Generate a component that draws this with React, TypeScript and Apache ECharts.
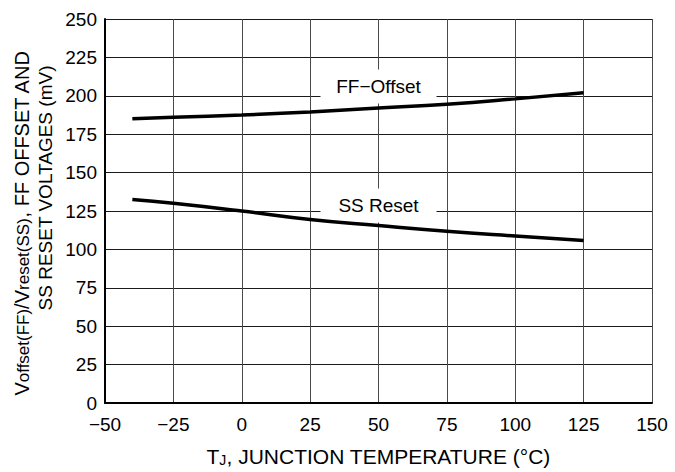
import React, { useEffect, useRef } from "react";
import * as echarts from "echarts";

const temperatures = [-40, -25, 0, 25, 50, 75, 100, 125];
const ffOffset = [185, 186, 187.5, 189.5, 192, 194.5, 198, 202];
const ssReset = [132.5, 130, 125, 119.5, 115.5, 111.8, 108.7, 105.8];

const xTicks = { min: -50, max: 150, interval: 25 };
const yTicks = { min: 0, max: 250, interval: 25 };

const ffLabel = { text: "FF\u2212Offset", x: 50, y: 206 };
const ssLabel = { text: "SS Reset", x: 50, y: 128.5 };

const FONT = "'Liberation Sans', Arial, Helvetica, sans-serif";

export default function App() {
  const ref = useRef<HTMLDivElement>(null);

  useEffect(() => {
    if (!ref.current) return;
    const chart = echarts.init(ref.current, null, { renderer: "svg" });

    const labelPoint = (l: { text: string; x: number; y: number }) => ({
      coord: [l.x, l.y],
      symbol: "rect",
      symbolSize: [116, 34],
      itemStyle: { color: "#ffffff" },
      label: {
        show: true,
        position: "inside",
        formatter: l.text,
        color: "#000",
        fontSize: 19,
        fontFamily: FONT,
      },
    });

    chart.setOption({
      animation: false,
      backgroundColor: "#ffffff",
      textStyle: { fontFamily: FONT },
      grid: { left: 105, right: 23, top: 19, bottom: 69, containLabel: false },
      xAxis: {
        type: "value",
        min: xTicks.min,
        max: xTicks.max,
        interval: xTicks.interval,
        axisLine: { show: true, onZero: false, lineStyle: { color: "#000", width: 2 } },
        axisTick: { show: false },
        axisLabel: {
          color: "#000",
          fontSize: 19,
          fontFamily: FONT,
          margin: 12,
          formatter: (v: number) => (v < 0 ? "\u2212" + Math.abs(v) : String(v)),
        },
        splitLine: { show: true, lineStyle: { color: "#4a4a4a", width: 1 } },
        name: "{m|T}{s|J}{m|, JUNCTION TEMPERATURE (\u00b0C)}",
        nameLocation: "middle",
        nameGap: 43,
        nameTextStyle: {
          rich: {
            m: { fontSize: 21, color: "#000", fontFamily: FONT },
            s: { fontSize: 14, color: "#000", fontFamily: FONT, verticalAlign: "bottom", lineHeight: 10 },
          },
        },
      },
      yAxis: {
        type: "value",
        min: yTicks.min,
        max: yTicks.max,
        interval: yTicks.interval,
        axisLine: { show: true, onZero: false, lineStyle: { color: "#000", width: 2 } },
        axisTick: { show: false },
        axisLabel: { color: "#000", fontSize: 19, fontFamily: FONT, margin: 8 },
        splitLine: { show: true, lineStyle: { color: "#1a1a1a", width: 1 } },
      },
      graphic: [
        {
          type: "text",
          x: 22,
          y: 223,
          rotation: Math.PI / 2,
          style: {
            text: "{m|V}{s|offset(FF)}{m|/V}{s|reset(SS)}{m|, FF OFFSET AND}",
            align: "center",
            verticalAlign: "middle",
            rich: {
              m: { fontSize: 20, fill: "#000", fontFamily: FONT },
              s: { fontSize: 17, fill: "#000", fontFamily: FONT, verticalAlign: "bottom", lineHeight: 11 },
            },
          },
        },
        {
          type: "text",
          x: 45,
          y: 188,
          rotation: Math.PI / 2,
          style: {
            text: "SS RESET VOLTAGES (mV)",
            align: "center",
            verticalAlign: "middle",
            fontSize: 19,
            fontFamily: FONT,
            fill: "#000",
          },
        },
      ],
      series: [
        {
          name: "FF-Offset",
          type: "line",
          data: temperatures.map((t, i) => [t, ffOffset[i]]),
          smooth: true,
          symbol: "none",
          lineStyle: { color: "#000", width: 3.5 },
          z: 3,
          markPoint: { z: 1, silent: true, data: [labelPoint(ffLabel)] },
        },
        {
          name: "SS Reset",
          type: "line",
          data: temperatures.map((t, i) => [t, ssReset[i]]),
          smooth: true,
          symbol: "none",
          lineStyle: { color: "#000", width: 3.5 },
          z: 3,
          markPoint: { z: 1, silent: true, data: [labelPoint(ssLabel)] },
        },
      ],
    });

    return () => chart.dispose();
  }, []);

  return (
    <div
      ref={ref}
      style={{ position: "fixed", left: 0, top: 0, width: 675, height: 472, background: "#fff" }}
    />
  );
}
